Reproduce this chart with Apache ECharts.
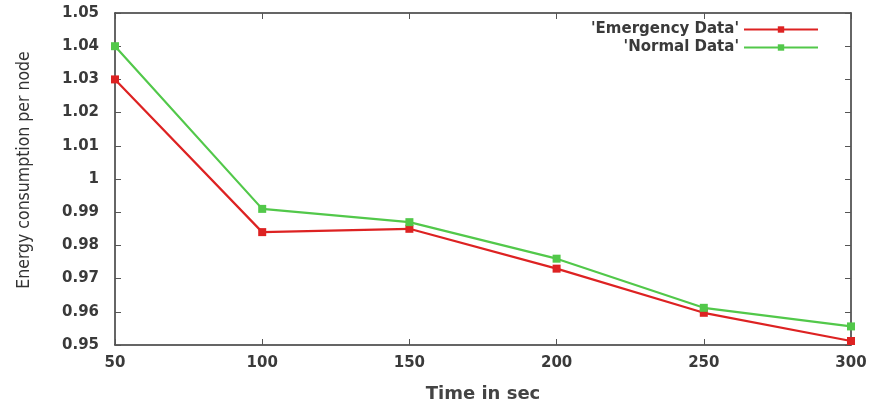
<!DOCTYPE html>
<html><head><meta charset="utf-8">
<script src="https://cdn.jsdelivr.net/npm/echarts@6/dist/echarts.min.js"></script>
<style>html,body{margin:0;padding:0;background:#fff}#c{width:876px;height:408px}</style>
</head><body><div id="c"></div>
<script>
var times = [50, 100, 150, 200, 250, 300];
var emergency = [1.03, 0.984, 0.985, 0.973, 0.9597, 0.9512];
var normal = [1.04, 0.991, 0.987, 0.976, 0.9612, 0.9556];
var seriesNames = ["'Emergency Data'", "'Normal Data'"];
var xTitle = 'Time in sec';
var yTitle = 'Energy consumption per node';

function pairs(xs, ys){ return xs.map(function(x,i){return [x, ys[i]];}); }
var chart = echarts.init(document.getElementById('c'), null, {renderer:'canvas'});
var lbl = {color:'#3a3a3a', fontFamily:'DejaVu Sans', fontSize:15, fontWeight:'bold'};
chart.setOption({
  animation:false,
  grid:{left:115, right:25, top:13, bottom:62},
  legend:{
    orient:'vertical', right:52, top:17, align:'right', itemGap:3,
    itemWidth:74, itemHeight:8,
    textStyle:{color:'#3a3a3a', fontFamily:'DejaVu Sans', fontSize:15, fontWeight:'bold'},
    data:seriesNames
  },
  xAxis:[{
    type:'value', min:50, max:300, interval:50,
    name:xTitle, nameLocation:'middle', nameGap:40,
    nameTextStyle:{color:'#444', fontFamily:'DejaVu Sans', fontSize:18, fontWeight:'bold'},
    axisLine:{lineStyle:{color:'#333', width:1.5}},
    axisTick:{inside:true, length:6, lineStyle:{color:'#555'}},
    axisLabel:Object.assign({margin:11}, lbl),
    splitLine:{show:false}
  },{
    type:'value', min:50, max:300, interval:50, position:'top',
    axisLine:{lineStyle:{color:'#333', width:1.5}},
    axisTick:{inside:true, length:6, lineStyle:{color:'#555'}},
    axisLabel:{show:false}, splitLine:{show:false}
  }],
  yAxis:[{
    type:'value', min:0.95, max:1.05, interval:0.01,
    name:yTitle, nameLocation:'middle', nameGap:82, nameRotate:90,
    nameTextStyle:{color:'#333', fontFamily:'DejaVu Sans Condensed', fontSize:17.5, padding:[0,0,0,18]},
    axisLine:{show:true, lineStyle:{color:'#333', width:1.5}},
    axisTick:{show:true, inside:true, length:6, lineStyle:{color:'#555'}},
    axisLabel:Object.assign({margin:16, formatter:function(v){return String(+v.toFixed(2));}}, lbl),
    splitLine:{show:false}
  },{
    type:'value', min:0.95, max:1.05, interval:0.01, position:'right',
    axisLine:{show:true, lineStyle:{color:'#333', width:1.5}},
    axisTick:{show:true, inside:true, length:6, lineStyle:{color:'#555'}},
    axisLabel:{show:false}, splitLine:{show:false}
  }],
  series:[{
    name:seriesNames[0], type:'line', data:pairs(times, emergency),
    symbol:'rect', symbolSize:8, lineStyle:{color:'#dd2222', width:2.2},
    itemStyle:{color:'#dd2222'}
  },{
    name:seriesNames[1], type:'line', data:pairs(times, normal),
    symbol:'rect', symbolSize:8, lineStyle:{color:'#52c84a', width:2.2},
    itemStyle:{color:'#52c84a'}
  }]
});
</script></body></html>
